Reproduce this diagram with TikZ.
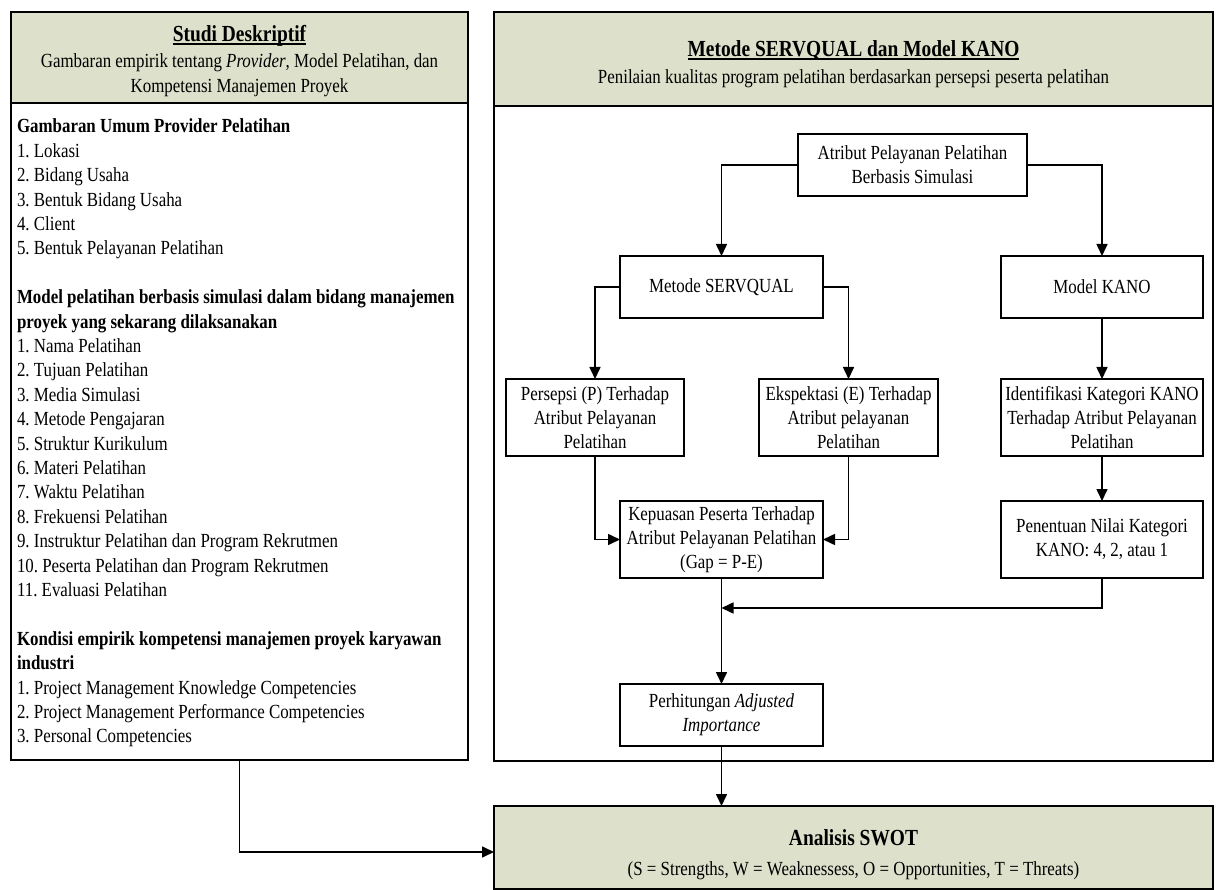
\documentclass[tikz,border=0pt]{standalone}
\usepackage{fontspec}
\setmainfont{Liberation Serif}[FakeStretch=0.845]
\usetikzlibrary{arrows.meta}
\definecolor{hdrgreen}{RGB}{221,224,202}
\newcommand{\myul}[1]{\setbox0\hbox{#1}\rlap{\rule[-2.6pt]{\wd0}{1.3pt}}\box0}
\frenchspacing
\begin{document}
\begin{tikzpicture}[x=1pt,y=-1pt,
  every node/.style={inner sep=0pt, outer sep=0pt},
  panel/.style={draw, line width=2.2pt, anchor=north west},
  hdr/.style={panel, fill=hdrgreen},
  txt/.style={anchor=base, font=\fontsize{20}{24}\selectfont},
  ttl/.style={anchor=base, font=\fontsize{23}{26}\selectfont\bfseries},
  box/.style={draw, line width=1.6pt, align=center, font=\fontsize{20}{24}\selectfont},
  arr/.style={line width=1.6pt, -{Triangle[length=12pt,width=11pt]}}]
\useasboundingbox (0,0) rectangle (1216,890);

% left panel
\node[hdr, minimum width=457pt, minimum height=91pt] (lhead) at (11,12) {};
\node[panel, minimum width=457pt, minimum height=657pt] (lbody) at (11,103) {};
\node[ttl] (ltitle) at (239.5,42) {\myul{Studi Deskriptif}};
\node[txt] (lsub1) at (239.5,68) {Gambaran empirik tentang \textit{Provider}, Model Pelatihan, dan};
\node[txt] (lsub2) at (239.5,93) {Kompetensi Manajemen Proyek};
\node[anchor=north west, align=left, font=\fontsize{20}{24.4}\selectfont] (ltext) at (17,119) {%
\textbf{Gambaran Umum Provider Pelatihan}\\
1. Lokasi\\
2. Bidang Usaha\\
3. Bentuk Bidang Usaha\\
4. Client\\
5. Bentuk Pelayanan Pelatihan\\[24.4pt]
\textbf{Model pelatihan berbasis simulasi dalam bidang manajemen}\\
\textbf{proyek yang sekarang dilaksanakan}\\
1. Nama Pelatihan\\
2. Tujuan Pelatihan\\
3. Media Simulasi\\
4. Metode Pengajaran\\
5. Struktur Kurikulum\\
6. Materi Pelatihan\\
7. Waktu Pelatihan\\
8. Frekuensi Pelatihan\\
9. Instruktur Pelatihan dan Program Rekrutmen\\
10. Peserta Pelatihan dan Program Rekrutmen\\
11. Evaluasi Pelatihan\\[24.4pt]
\textbf{Kondisi empirik kompetensi manajemen proyek karyawan}\\
\textbf{industri}\\
1. Project Management Knowledge Competencies\\
2. Project Management Performance Competencies\\
3. Personal Competencies};

% right panel
\node[hdr, minimum width=719pt, minimum height=94pt] (rhead) at (494,12) {};
\node[panel, minimum width=719pt, minimum height=655pt] (rbody) at (494,106) {};
\node[ttl] (rtitle) at (853.5,57) {\myul{Metode SERVQUAL dan Model KANO}};
\node[txt] (rsub) at (853.5,84) {Penilaian kualitas program pelatihan berdasarkan persepsi peserta pelatihan};

% inner boxes
\node[box, minimum width=229pt, minimum height=62pt] (atr) at (912.5,165) {Atribut Pelayanan Pelatihan\\Berbasis Simulasi};
\node[box, minimum width=203pt, minimum height=62pt] (serv) at (721.5,287) {Metode SERVQUAL};
\node[box, minimum width=202pt, minimum height=62pt] (kano) at (1102,287) {Model KANO};
\node[box, minimum width=178pt, minimum height=77pt] (pers) at (595,417.5) {Persepsi (P) Terhadap\\Atribut Pelayanan\\Pelatihan};
\node[box, minimum width=179pt, minimum height=77pt] (eksp) at (848.5,417.5) {Ekspektasi (E) Terhadap\\Atribut pelayanan\\Pelatihan};
\node[box, minimum width=202pt, minimum height=77pt] (iden) at (1102,417.5) {Identifikasi Kategori KANO\\Terhadap Atribut Pelayanan\\Pelatihan};
\node[box, minimum width=203pt, minimum height=77pt] (kep) at (721.5,539.5) {Kepuasan Peserta Terhadap\\Atribut Pelayanan Pelatihan\\(Gap = P-E)};
\node[box, minimum width=202pt, minimum height=77pt] (pen) at (1102,539.5) {Penentuan Nilai Kategori\\KANO: 4, 2, atau 1};
\node[box, minimum width=203pt, minimum height=62pt] (perh) at (721.5,715) {Perhitungan \textit{Adjusted}\\\textit{Importance}};

% SWOT
\node[hdr, minimum width=719pt, minimum height=83pt] (swot) at (494,806) {};
\node[ttl] (swtitle) at (853.5,845) {Analisis SWOT};
\node[txt] (swsub) at (853.5,875) {(S = Strengths, W = Weaknessess, O = Opportunities, T = Threats)};

% connectors
\coordinate (join) at (721.5,608);
\coordinate (swotin) at (494,852);
\draw[arr] (atr.west) -| (serv.north);
\draw[arr] (atr.east) -| (kano.north);
\draw[arr] (serv.west) -| (pers.north);
\draw[arr] (serv.east) -| (eksp.north);
\draw[arr] (kano.south) -- (iden.north);
\draw[arr] (iden.south) -- (pen.north);
\draw[arr] (pers.south) |- (kep.west);
\draw[arr] (eksp.south) |- (kep.east);
\draw[arr] (kep.south) -- (perh.north);
\draw[arr] (pen.south) |- (join);
\draw[arr] (perh.south) -- (perh.south |- swot.north);
\draw[arr] (lbody.south) |- (swotin);
\end{tikzpicture}
\end{document}
